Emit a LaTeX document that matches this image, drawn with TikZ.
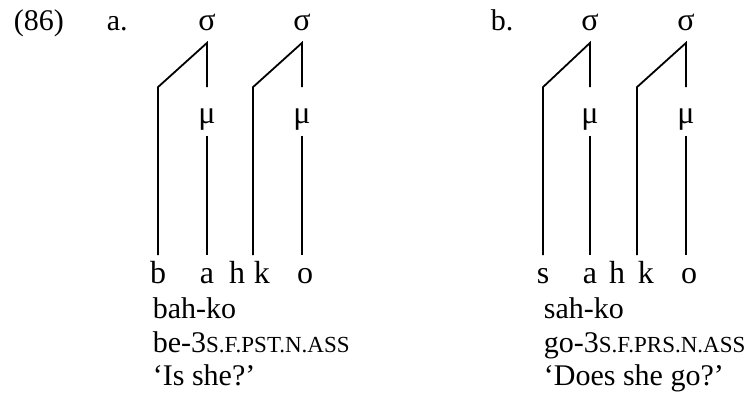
\documentclass[tikz,border=0pt]{standalone}
\usepackage{fontspec}
\setmainfont{Liberation Serif}
\usetikzlibrary{positioning}
\newcommand{\glosssc}[1]{{\fontsize{23}{28}\selectfont #1}}

\begin{document}
\begin{tikzpicture}[x=1pt, y=-1pt, line width=1.8pt, line join=miter,
    every node/.style={font=\fontsize{30}{34}\selectfont, inner sep=0pt},
    syl/.style={anchor=base, text height=35pt, text depth=12pt, font=\fontsize{32}{36}\selectfont},
    seg/.style={anchor=base, text height=27pt, text depth=0pt, font=\fontsize{32}{36}\selectfont},
    gloss/.style={anchor=base west}]
    \useasboundingbox (0,0) rectangle (744,394);

    \node [gloss] (num) at (13,30) {(86)};
    \node [gloss] (exa) at (106,30) {a.};
    \node [gloss] (exb) at (490,30) {b.};

    % a. bah-ko
    \node [syl] (sa1) at (207,30) {σ};
    \node [syl] (sa2) at (302,30) {σ};
    \node [syl] (ma1) at (207,123) {μ};
    \node [syl] (ma2) at (302,123) {μ};
    \node [seg] (ba) at (158,283) {b};
    \node [seg] (aa) at (207,283) {a};
    \node [seg] (ha) at (237,283) {h};
    \node [seg, anchor=base west] (ka) at (253,283) {k};
    \node [seg] (oa) at (305,283) {o};
    \coordinate (ca1) at (ba.north |- ma1.north);
    \coordinate (ca2) at (ka.north west |- ma2.north);

    \draw (ba.north) -- (ca1) -- (sa1.south) -- (ma1.north);
    \draw (ma1.south) -- (aa.north);
    \draw (ka.north west) -- (ca2) -- (sa2.south) -- (ma2.north);
    \draw (ma2.south) -- (ma2.south |- oa.north);

    \node [gloss] (wa) at (152,318) {bah-ko};
    \node [gloss] (ga) at (152,352) {be-3\glosssc{S.F.PST.N.ASS}};
    \node [gloss] (ta) at (152,385) {‘Is she?’};

    % b. sah-ko
    \node [syl] (sb1) at (590,30) {σ};
    \node [syl] (sb2) at (686,30) {σ};
    \node [syl] (mb1) at (590,123) {μ};
    \node [syl] (mb2) at (686,123) {μ};
    \node [seg] (sb) at (543,283) {s};
    \node [seg] (ab) at (590,283) {a};
    \node [seg] (hb) at (617,283) {h};
    \node [seg, anchor=base west] (kb) at (637,283) {k};
    \node [seg] (ob) at (689,283) {o};
    \coordinate (cb1) at (sb.north |- mb1.north);
    \coordinate (cb2) at (kb.north west |- mb2.north);

    \draw (sb.north) -- (cb1) -- (sb1.south) -- (mb1.north);
    \draw (mb1.south) -- (ab.north);
    \draw (kb.north west) -- (cb2) -- (sb2.south) -- (mb2.north);
    \draw (mb2.south) -- (mb2.south |- ob.north);

    \node [gloss] (wb) at (543,318) {sah-ko};
    \node [gloss] (gb) at (543,352) {go-3\glosssc{S.F.PRS.N.ASS}};
    \node [gloss] (tb) at (543,385) {‘Does she go?’};
\end{tikzpicture}
\end{document}
